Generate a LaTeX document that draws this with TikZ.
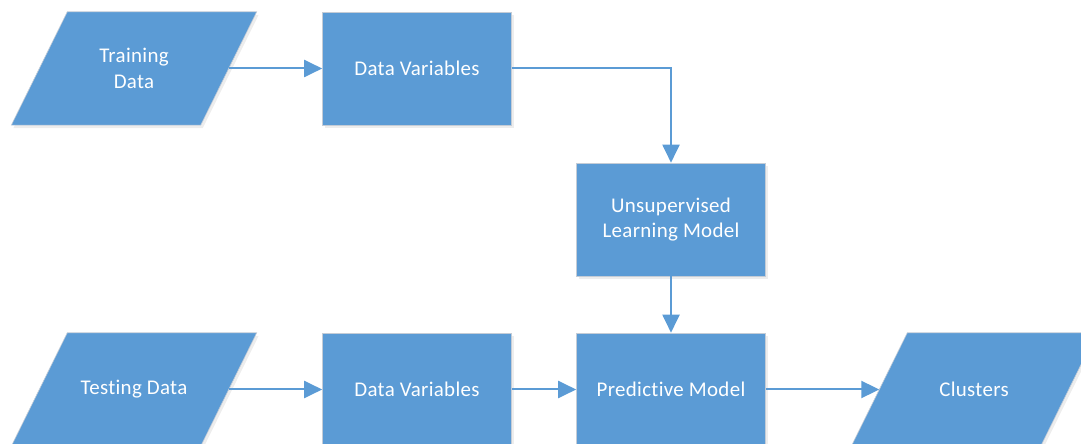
\documentclass[tikz,border=0pt]{standalone}
\usepackage{fontspec}
\setmainfont{Carlito}[LetterSpace=1.5, Ligatures={NoCommon}]
\usetikzlibrary{arrows.meta,shadows}
\definecolor{officeblue}{RGB}{91,155,213}
\definecolor{edgegray}{RGB}{196,204,214}
\pgfdeclarelayer{background}
\pgfsetlayers{background,main}
% slanted input/output shape drawn behind a text node of the same size
\newcommand\ioshape[1]{%
  \begin{pgfonlayer}{background}
    \path[iofill] ([xshift=28bp]#1.north west) -- ([xshift=28bp]#1.north east)
      -- ([xshift=-28bp]#1.south east) -- ([xshift=-28bp]#1.south west) -- cycle;
  \end{pgfonlayer}}
\begin{document}
\begin{tikzpicture}[x=1bp,y=-1bp,
  every node/.style={font=\fontsize{21}{26}\selectfont, text=white, align=center},
  shade/.style={general shadow={fill=black, opacity=0.07, shadow xshift=2bp, shadow yshift=-3bp}},
  procbox/.style={shape=rectangle, fill=officeblue, draw=edgegray, line width=0.6bp,
    minimum width=189bp, minimum height=113bp, inner sep=0pt, shade},
  iobox/.style={shape=rectangle, minimum width=189bp, minimum height=113bp, inner sep=0pt},
  iofill/.style={fill=officeblue, draw=edgegray, line width=0.6bp, shade},
  flow/.style={draw=officeblue, line width=2bp, -{Triangle[length=18bp,width=17bp]}}]
\useasboundingbox (0,0) rectangle (1081,444);
\clip (0,0) rectangle (1081,444);

% top row
\node[iobox]   (train) at (134,68.5)  {Training\\Data};
\node[procbox] (dv1)   at (417,68.5)  {Data Variables};
\node[procbox] (unsup) at (671,219.5) {Unsupervised\\Learning Model};

% bottom row
\node[iobox]   (test)  at (134,389.5) {Testing Data};
\node[procbox] (dv2)   at (417,389.5) {Data Variables};
\node[procbox] (pred)  at (671,389.5) {Predictive Model};
\node[iobox]   (clust) at (974,389.5) {Clusters};

\ioshape{train}
\ioshape{test}
\ioshape{clust}

% connectors
\draw[flow] (train.east) -- (dv1.west);
\draw[flow] (dv1.east) -| (unsup.north);
\draw[flow] (unsup.south) -- (pred.north);
\draw[flow] (test.east) -- (dv2.west);
\draw[flow] (dv2.east) -- (pred.west);
\draw[flow] (pred.east) -- (clust.west);
\end{tikzpicture}
\end{document}
